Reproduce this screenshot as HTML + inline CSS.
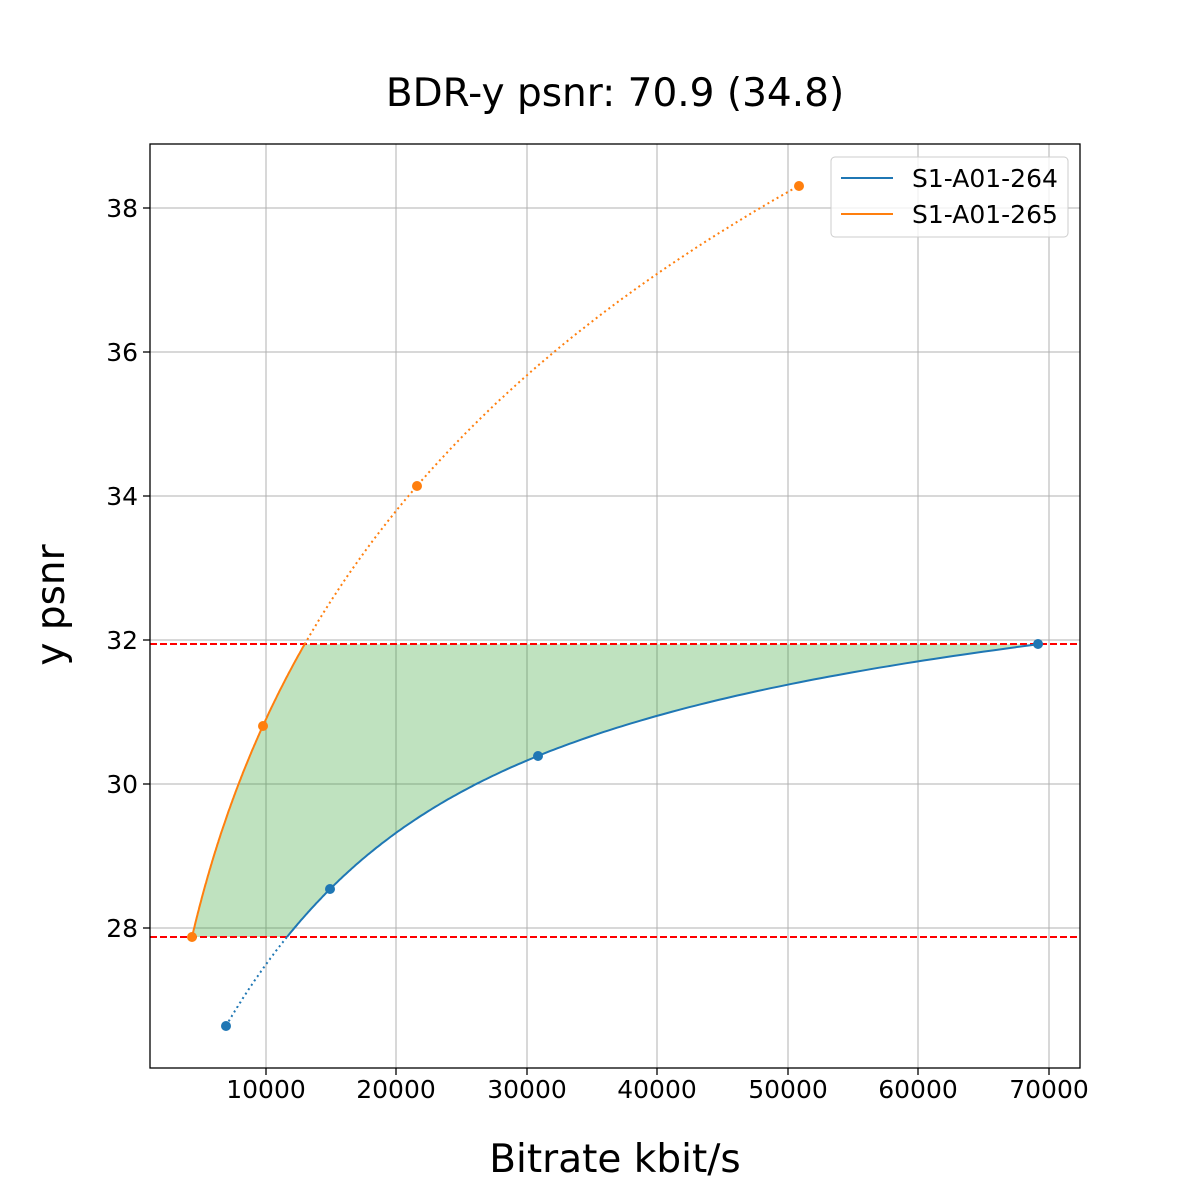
<!DOCTYPE html>
<html><head><meta charset="utf-8"><style>body{margin:0;background:#fff}svg{display:block}text{font-family:"DejaVu Sans","Liberation Sans",sans-serif;fill:#000}</style></head>
<body>
<svg id="s" width="1200" height="1200" viewBox="0 0 1200 1200" xmlns="http://www.w3.org/2000/svg">
<rect width="1200" height="1200" fill="#fff"/>
<text x="615" y="106" font-size="39" text-anchor="middle">BDR-y psnr: 70.9 (34.8)</text>
<g stroke="#b0b0b0" stroke-width="1">
<line x1="266" y1="144" x2="266" y2="1068"/><line x1="396" y1="144" x2="396" y2="1068"/><line x1="527" y1="144" x2="527" y2="1068"/><line x1="657" y1="144" x2="657" y2="1068"/><line x1="788" y1="144" x2="788" y2="1068"/><line x1="918" y1="144" x2="918" y2="1068"/><line x1="1049" y1="144" x2="1049" y2="1068"/>
<line x1="150" y1="208" x2="1080" y2="208"/><line x1="150" y1="352" x2="1080" y2="352"/><line x1="150" y1="496" x2="1080" y2="496"/><line x1="150" y1="640" x2="1080" y2="640"/><line x1="150" y1="784" x2="1080" y2="784"/><line x1="150" y1="928" x2="1080" y2="928"/>
</g>
<path id="fill" d="" fill="#2ca02c" fill-opacity="0.3"/>
<line x1="150" y1="644" x2="1080" y2="644" stroke="#ff0000" stroke-width="2" stroke-dasharray="7,3"/>
<line x1="150" y1="937" x2="1080" y2="937" stroke="#ff0000" stroke-width="2" stroke-dasharray="7,3"/>
<path id="bd" d="" fill="none" stroke="#1f77b4" stroke-width="2" stroke-dasharray="2,3.3"/>
<path id="bs" d="" fill="none" stroke="#1f77b4" stroke-width="2"/>
<path id="od" d="" fill="none" stroke="#ff7f0e" stroke-width="2" stroke-dasharray="2,3.3"/>
<path id="os" d="" fill="none" stroke="#ff7f0e" stroke-width="2"/>
<g fill="#1f77b4"><circle cx="226" cy="1026" r="5"/><circle cx="330" cy="889" r="5"/><circle cx="538" cy="756" r="5"/><circle cx="1038" cy="644" r="5"/></g>
<g fill="#ff7f0e"><circle cx="192" cy="937" r="5"/><circle cx="263" cy="726" r="5"/><circle cx="417" cy="486" r="5"/><circle cx="799" cy="186" r="5"/></g>
<rect x="150" y="144" width="930" height="924" fill="none" stroke="#000" stroke-width="1.3"/>
<g stroke="#000" stroke-width="1.3">
<line x1="266" y1="1068" x2="266" y2="1075"/><line x1="396" y1="1068" x2="396" y2="1075"/><line x1="527" y1="1068" x2="527" y2="1075"/><line x1="657" y1="1068" x2="657" y2="1075"/><line x1="788" y1="1068" x2="788" y2="1075"/><line x1="918" y1="1068" x2="918" y2="1075"/><line x1="1049" y1="1068" x2="1049" y2="1075"/>
<line x1="143" y1="208" x2="150" y2="208"/><line x1="143" y1="352" x2="150" y2="352"/><line x1="143" y1="496" x2="150" y2="496"/><line x1="143" y1="640" x2="150" y2="640"/><line x1="143" y1="784" x2="150" y2="784"/><line x1="143" y1="928" x2="150" y2="928"/>
</g>
<g font-size="25" text-anchor="middle">
<text x="266" y="1098">10000</text><text x="396" y="1098">20000</text><text x="527" y="1098">30000</text><text x="657" y="1098">40000</text><text x="788" y="1098">50000</text><text x="918" y="1098">60000</text><text x="1049" y="1098">70000</text>
</g>
<g font-size="25" text-anchor="end">
<text x="138" y="217">38</text><text x="138" y="361">36</text><text x="138" y="505">34</text><text x="138" y="649">32</text><text x="138" y="793">30</text><text x="138" y="937">28</text>
</g>
<text x="615" y="1172" font-size="39" text-anchor="middle">Bitrate kbit/s</text>
<text transform="translate(64,605) rotate(-90)" font-size="39" text-anchor="middle">y psnr</text>
<rect x="831" y="157" width="237" height="80" rx="4" fill="#fff" fill-opacity="0.8" stroke="#ccc"/>
<line x1="841" y1="178" x2="893" y2="178" stroke="#1f77b4" stroke-width="2"/>
<line x1="841" y1="214" x2="893" y2="214" stroke="#ff7f0e" stroke-width="2"/>
<text x="912" y="187" font-size="25">S1-A01-264</text>
<text x="912" y="223" font-size="25">S1-A01-265</text>
</svg>
<script>
function X(v){return 266+(v-10000)*0.01305}
function Y(p){return 928-(p-28)*72}
function lag(ps,ls,p){var r=0;for(var i=0;i<4;i++){var t=ls[i];for(var j=0;j<4;j++)if(j!=i)t*=(p-ps[j])/(ps[i]-ps[j]);r+=t}return r}
var B={r:[6935,14904,30843,69157],p:[26.64,28.54,30.39,31.94]};
var O={r:[4330,9770,21571,50843],p:[27.875,30.81,34.14,38.31]};
[B,O].forEach(function(s){s.l=s.r.map(Math.log)});
function pts(s,a,b){var o=[];for(var i=0;i<=200;i++){var p=a+(b-a)*i/200;o.push([X(Math.exp(lag(s.p,s.l,p))),Y(p)])}return o}
function d(a){return 'M'+a.map(function(q){return q[0].toFixed(1)+','+q[1].toFixed(1)}).join(' L')}
var lo=27.875,hi=31.94;
var bs=pts(B,lo,hi),os=pts(O,lo,hi);
document.getElementById('bs').setAttribute('d',d(bs));
document.getElementById('os').setAttribute('d',d(os));
document.getElementById('bd').setAttribute('d',d(pts(B,26.64,lo)));
document.getElementById('od').setAttribute('d',d(pts(O,hi,38.31)));
document.getElementById('fill').setAttribute('d',d(os.concat(bs.slice().reverse()))+'Z');
</script>
</body></html>
